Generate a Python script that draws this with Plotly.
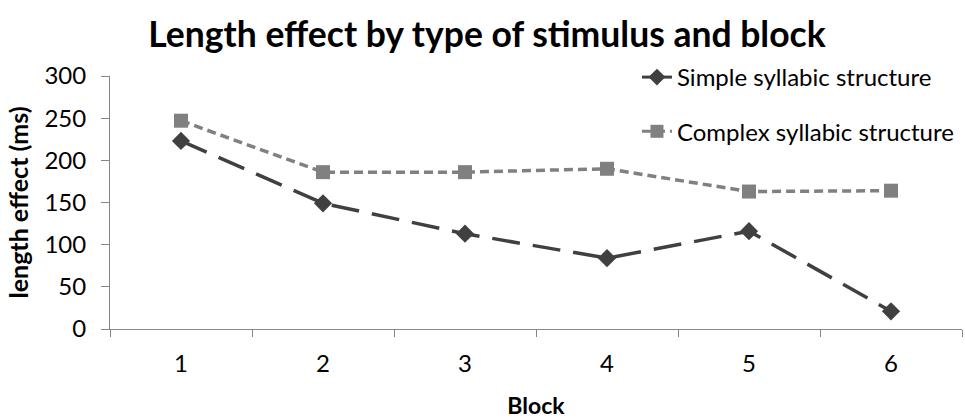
import plotly.graph_objects as go

blocks = ["1", "2", "3", "4", "5", "6"]
simple = [223, 149, 113, 84, 116, 21]
complex_ = [247, 186, 186, 190, 163, 164]
y_ticks = [0, 50, 100, 150, 200, 250, 300]

FONT = "Lato"
DARK = "#404040"
GRAY = "#808080"

fig = go.Figure()
fig.add_trace(go.Scatter(
    x=blocks, y=simple, mode="lines+markers", showlegend=False,
    line=dict(color=DARK, width=3.5, dash="28px,13px"),
    marker=dict(symbol="diamond", size=14, color=DARK),
))
fig.add_trace(go.Scatter(
    x=blocks, y=complex_, mode="lines+markers", showlegend=False,
    line=dict(color=GRAY, width=3.5, dash="9px,5px"),
    marker=dict(symbol="square", size=14, color=GRAY),
))
# legend entries
fig.add_trace(go.Scatter(
    x=[None], y=[None], mode="lines+markers", name="Simple syllabic structure",
    legendgroup="a",
    line=dict(color=DARK, width=3), marker=dict(symbol="diamond", size=13, color=DARK),
))
fig.add_trace(go.Scatter(
    x=[None], y=[None], mode="lines+markers", name="Complex syllabic structure",
    legendgroup="b",
    line=dict(color=GRAY, width=3, dash="9px,5px"), marker=dict(symbol="square", size=13, color=GRAY),
))

fig.update_layout(
    width=965, height=419,
    margin=dict(l=110, r=3, t=76, b=89.5),
    paper_bgcolor="white", plot_bgcolor="white",
    font=dict(family=FONT, size=24, color="black"),
    title=dict(text="<b>Length effect by type of stimulus and block</b>",
               x=487/965, xref="container", xanchor="center",
               y=1-35/419, yref="container", yanchor="middle",
               font=dict(family=FONT, size=35.5, color="black")),
    legend=dict(x=0.6185, y=1.083, xanchor="left", yanchor="top",
                bgcolor="rgba(0,0,0,0)", tracegroupgap=20,
                font=dict(family=FONT, size=24)),
    xaxis=dict(type="category", range=[-0.5, 5.5], tickson="boundaries",
               ticks="outside", ticklen=7,
               tickcolor="#868686", showline=True, linecolor="#868686", linewidth=1,
               showgrid=False, zeroline=False, ticklabelstandoff=13,
               title=dict(text="<b>Block</b>", font=dict(size=23), standoff=23)),
    yaxis=dict(range=[0, 300], tickvals=y_ticks, ticks="outside", ticklen=8,
               tickcolor="#868686", showline=True, linecolor="#868686", linewidth=1,
               showgrid=False, zeroline=False, ticklabelstandoff=10,
               title=dict(text="<b>length effect (ms)</b>", font=dict(size=25), standoff=8)),
)

fig.write_html("out.html")
